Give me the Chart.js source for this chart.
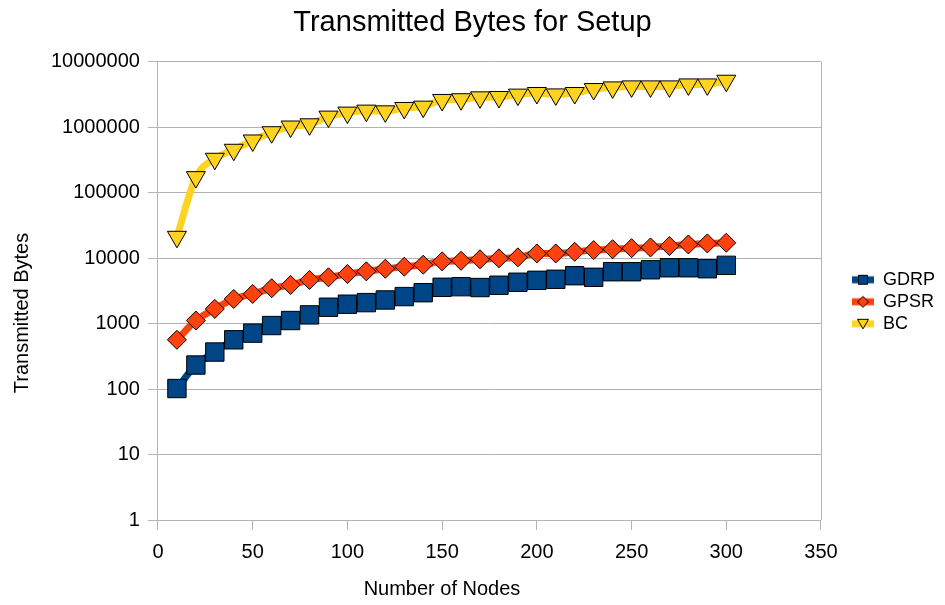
<!DOCTYPE html>
<html>
<head>
<meta charset="utf-8">
<script src="https://cdn.jsdelivr.net/npm/chart.js@4/dist/chart.umd.min.js"></script>
<style>
  html, body { margin: 0; padding: 0; background: #fff; }
  #chart { display: block; }
</style>
</head>
<body>
<canvas id="chart" width="945" height="605"></canvas>
<script>
// Number of nodes (x values)
const nodes = [10, 20, 30, 40, 50, 60, 70, 80, 90, 100, 110, 120, 130, 140, 150,
  160, 170, 180, 190, 200, 210, 220, 230, 240, 250, 260, 270, 280, 290, 300];

// Transmitted bytes per protocol
const gdrp = [102, 233, 368, 566, 716, 935, 1115, 1360, 1780, 1980, 2095, 2300, 2590, 2970, 3590,
  3670, 3560, 3860, 4290, 4590, 4760, 5400, 5100, 6210, 6210, 6650, 7140, 7140, 6900, 7770];
const gpsr = [566, 1115, 1680, 2380, 2840, 3470, 3900, 4650, 5100, 5730, 6290, 6900, 7400, 7940, 8940,
  9130, 9600, 9930, 10300, 11800, 11800, 12500, 13300, 13700, 14200, 14600, 15300, 16200, 16800, 17200];
const bc = [21200, 173000, 330000, 453000, 628000, 840000, 1026000, 1110000, 1455000, 1675000,
  1795000, 1750000, 1972000, 2065000, 2612000, 2680000, 2865000, 2900000, 3150000, 3335000,
  3175000, 3335000, 3835000, 4065000, 4210000, 4210000, 4210000, 4510000, 4510000, 5140000];

// Axis ticks
const yTicks = [1, 10, 100, 1000, 10000, 100000, 1000000, 10000000];
const xTicks = [0, 50, 100, 150, 200, 250, 300, 350];

const FONT = "'Liberation Sans', Arial, sans-serif";

function toPoints(ys) {
  return nodes.map((x, i) => ({ x: x, y: ys[i] }));
}

// little line+marker swatch for the legend
function legendIcon(color, style) {
  const c = document.createElement("canvas");
  c.width = 22; c.height = 14;
  const g = c.getContext("2d");
  g.fillStyle = color;
  g.fillRect(0, 3.5, 22, 7);
  g.beginPath();
  if (style === "rect") {
    g.rect(6.5, 2.5, 9, 9);
  } else if (style === "rectRot") {
    g.moveTo(11, 1.5); g.lineTo(16.5, 7); g.lineTo(11, 12.5); g.lineTo(5.5, 7); g.closePath();
  } else {
    g.moveTo(5.5, 2.5); g.lineTo(16.5, 2.5); g.lineTo(11, 12); g.closePath();
  }
  g.fillStyle = color;
  g.fill();
  g.lineWidth = 1;
  g.strokeStyle = "#000";
  g.stroke();
  return c;
}

const series = [
  { label: "GDRP", data: gdrp, color: "#004586", style: "rect", radius: 13, rot: 0 },
  { label: "GPSR", data: gpsr, color: "#ff420e", style: "rectRot", radius: 9.5, rot: 0 },
  { label: "BC", data: bc, color: "#ffd320", style: "triangle", radius: 11, rot: 180 },
];

// plot border on the right side
const rightBorder = {
  id: "rightBorder",
  afterDatasetsDraw(chart) {
    const a = chart.chartArea, ctx = chart.ctx;
    ctx.save();
    ctx.strokeStyle = "#b3b3b3";
    ctx.lineWidth = 1;
    ctx.beginPath();
    ctx.moveTo(Math.round(a.right) + 0.5, a.top);
    ctx.lineTo(Math.round(a.right) + 0.5, a.bottom);
    ctx.stroke();
    ctx.restore();
  },
};

// axis titles: centred like the original (on the page, not on the plot area)
const axisTitles = {
  id: "axisTitles",
  afterDraw(chart) {
    const ctx = chart.ctx;
    ctx.save();
    ctx.fillStyle = "#000";
    ctx.font = "20px " + FONT;
    ctx.textAlign = "center";
    ctx.textBaseline = "middle";
    ctx.fillText("Number of Nodes", 442, 589);
    ctx.translate(22, 313);
    ctx.rotate(-Math.PI / 2);
    ctx.fillText("Transmitted Bytes", 0, 0);
    ctx.restore();
  },
};

new Chart(document.getElementById("chart"), {
  type: "line",
  data: {
    datasets: series.map((s) => ({
      label: s.label,
      data: toPoints(s.data),
      borderColor: s.color,
      backgroundColor: s.color,
      borderWidth: 7,
      cubicInterpolationMode: "monotone",
      pointStyle: s.style,
      pointRadius: s.radius,
      pointHoverRadius: s.radius,
      pointRotation: s.rot,
      pointBackgroundColor: s.color,
      pointBorderColor: "#000",
      pointBorderWidth: 1,
      fill: false,
    })),
  },
  options: {
    responsive: false,
    animation: false,
    layout: { padding: { left: 0, right: 0, top: 4, bottom: 31 } },
    plugins: {
      title: {
        display: true,
        text: "Transmitted Bytes for Setup",
        color: "#000",
        font: { family: FONT, size: 29, weight: "normal" },
        padding: { top: 2, bottom: 21 },
      },
      legend: {
        position: "right",
        title: { display: true, text: " ", font: { size: 18 }, padding: 2 },
        labels: {
          color: "#000",
          font: { family: FONT, size: 18 },
          usePointStyle: true,
          pointStyleWidth: 22,
          padding: 4,
          generateLabels: (chart) =>
            series.map((s, i) => ({
              text: s.label,
              fontColor: "#000",
              pointStyle: legendIcon(s.color, s.style),
              fillStyle: s.color,
              strokeStyle: s.color,
              lineWidth: 0,
              hidden: false,
              datasetIndex: i,
            })),
        },
      },
      tooltip: { enabled: false },
    },
    scales: {
      x: {
        type: "linear",
        min: 0,
        max: 350,
        afterBuildTicks: (scale) => { scale.ticks = xTicks.map((v) => ({ value: v })); },
        grid: { drawOnChartArea: false, drawTicks: true, tickLength: 10, color: "#b3b3b3" },
        border: { color: "#b3b3b3" },
        ticks: { color: "#000", font: { family: FONT, size: 20 }, padding: 10 },
      },
      y: {
        type: "logarithmic",
        min: 1,
        max: 10000000,
        afterBuildTicks: (scale) => { scale.ticks = yTicks.map((v) => ({ value: v })); },
        afterFit: (scale) => { scale.width += 43; },
        grid: { color: "#b3b3b3", tickLength: 10 },
        border: { color: "#b3b3b3" },
        ticks: {
          color: "#000",
          font: { family: FONT, size: 20 },
          padding: 8,
          callback: (v) => String(v),
        },
      },
      gap: {
        type: "linear",
        position: "right",
        display: true,
        grid: { display: false },
        border: { display: false },
        ticks: { display: false },
        afterFit: (scale) => { scale.width = 27; },
      },
    },
  },
  plugins: [rightBorder, axisTitles],
});
</script>
</body>
</html>
